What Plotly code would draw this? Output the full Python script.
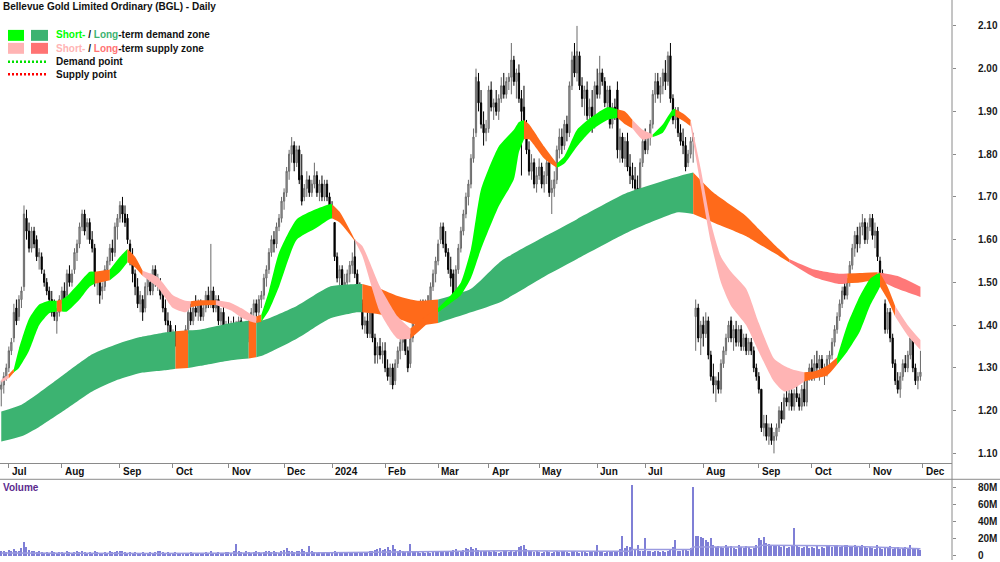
import plotly.graph_objects as go
import pandas as pd

# ---------------- data ----------------
holidays = ['2023-12-25', '2023-12-26', '2024-01-01', '2024-01-26',
            '2024-03-29', '2024-04-01', '2024-04-25', '2024-06-10']

opens = [
    1.25,1.26,1.28,
    1.30,1.34,1.37,1.44,1.42,1.46,1.49,1.65,1.62,1.58,1.62,1.60,1.56,1.56,1.52,1.50,1.48,1.46,1.44,1.41,1.43,
    1.46,1.48,1.47,1.52,1.50,1.53,1.57,1.59,1.63,1.66,1.63,1.64,1.60,1.58,1.50,1.50,1.48,1.49,1.53,1.55,1.58,1.57,1.63,
    1.65,1.68,1.66,1.65,1.59,1.56,1.52,1.49,1.45,1.46,1.44,1.49,1.50,1.48,1.53,1.50,1.50,1.47,1.44,1.41,1.40,
    1.37,1.38,1.36,1.34,1.36,1.37,1.39,1.43,1.41,1.44,1.43,1.45,1.42,1.44,1.47,1.45,1.48,1.44,1.46,1.41,1.43,1.39,
    1.40,1.38,1.40,1.36,1.39,1.41,1.37,1.39,1.37,1.41,1.43,1.45,1.43,1.46,1.47,1.51,1.53,1.57,1.60,1.59,1.63,1.65,
    1.69,1.71,1.76,1.80,1.82,1.78,1.81,1.75,1.70,1.72,1.74,1.71,1.73,1.75,1.71,1.73,1.70,1.73,1.70,
    1.67,1.64,1.56,1.51,1.53,1.49,1.50,1.52,1.54,1.56,1.52,1.49,1.45,1.40,1.41,1.38,1.43,1.37,1.33,1.35,1.33,
    1.34,1.30,1.28,1.30,1.27,1.31,1.34,1.36,1.38,1.34,1.31,1.37,1.41,1.43,1.41,1.44,1.42,1.45,1.44,1.49,1.52,
    1.55,1.60,1.63,1.59,1.57,1.53,1.52,1.47,1.53,1.58,1.62,1.66,1.70,1.73,1.79,1.85,1.97,1.92,1.87,1.85,
    1.86,1.95,1.91,1.92,1.90,1.93,1.96,1.94,1.97,1.98,2.02,1.97,1.99,1.93,1.91,1.86,1.81,1.76,1.78,1.73,
    1.75,1.77,1.73,1.75,1.78,1.71,1.72,1.74,1.81,1.84,1.82,1.87,1.85,1.96,2.03,1.99,2.03,1.96,1.93,1.95,1.89,1.91,1.87,
    1.96,1.94,1.99,1.97,1.92,1.95,1.87,1.91,1.95,1.81,1.84,1.79,1.83,1.77,1.75,1.74,1.72,1.71,1.78,
    1.83,1.81,1.84,1.87,1.94,1.97,1.94,1.96,1.99,1.97,2.03,1.93,1.88,1.90,1.85,1.83,1.82,1.78,1.80,1.83,1.42,1.44,1.37,
    1.40,1.38,1.41,1.33,1.28,1.26,1.27,1.25,1.31,1.34,1.37,1.41,1.37,1.39,1.36,1.39,1.35,1.37,1.34,1.36,1.34,1.30,
    1.28,1.25,1.16,1.17,1.14,1.16,1.13,1.14,1.16,1.20,1.18,1.23,1.22,1.24,1.21,1.24,1.23,1.21,1.25,1.22,1.28,
    1.30,1.28,1.31,1.30,1.32,1.29,1.30,1.32,1.33,1.36,1.39,1.42,1.45,1.49,1.47,1.50,1.54,1.58,1.61,1.59,1.63,1.64,1.60,
    1.63,1.65,1.61,1.62,1.55,1.52,1.45,1.39,1.43,1.37,1.31,1.27,1.25,1.28,1.31,1.30,1.33,1.37,1.30,1.27,1.28,
]
highs = [
    1.27,1.29,1.31,
    1.35,1.37,1.45,1.46,1.47,1.49,1.68,1.67,1.64,1.63,1.63,1.61,1.58,1.57,1.53,1.51,1.49,1.48,1.46,1.44,1.47,
    1.49,1.50,1.53,1.54,1.53,1.58,1.60,1.64,1.67,1.67,1.65,1.65,1.62,1.59,1.52,1.52,1.50,1.54,1.56,1.59,1.60,1.64,1.66,
    1.69,1.70,1.68,1.66,1.60,1.58,1.53,1.51,1.48,1.47,1.50,1.52,1.52,1.54,1.54,1.52,1.51,1.48,1.46,1.43,1.41,
    1.39,1.40,1.37,1.37,1.38,1.40,1.44,1.45,1.45,1.47,1.46,1.46,1.45,1.48,1.49,1.59,1.49,1.47,1.47,1.44,1.45,1.41,
    1.42,1.41,1.42,1.41,1.42,1.42,1.40,1.41,1.42,1.44,1.46,1.46,1.47,1.48,1.52,1.54,1.58,1.61,1.62,1.64,1.66,1.70,
    1.72,1.77,1.81,1.84,1.83,1.82,1.82,1.80,1.73,1.76,1.75,1.74,1.78,1.76,1.74,1.75,1.74,1.74,1.71,
    1.69,1.64,1.57,1.54,1.54,1.52,1.53,1.55,1.57,1.60,1.53,1.50,1.46,1.42,1.43,1.44,1.45,1.38,1.36,1.37,1.36,
    1.36,1.32,1.31,1.31,1.32,1.35,1.37,1.39,1.39,1.35,1.38,1.42,1.44,1.45,1.46,1.46,1.46,1.47,1.50,1.53,1.56,
    1.60,1.64,1.64,1.62,1.58,1.56,1.53,1.54,1.59,1.63,1.67,1.71,1.74,1.80,1.86,2.00,1.99,1.95,1.90,1.88,
    1.96,1.97,1.93,1.95,1.94,1.98,1.99,1.98,1.99,2.06,2.03,2.00,2.01,1.95,1.96,1.88,1.83,1.80,1.79,1.77,
    1.79,1.78,1.76,1.79,1.79,1.74,1.76,1.82,1.86,1.86,1.88,1.89,1.97,2.04,2.06,2.10,2.04,1.98,1.96,1.97,1.93,1.95,1.97,
    2.00,2.03,2.00,1.98,1.96,1.96,1.92,1.93,1.97,1.86,1.85,1.84,1.85,1.80,1.78,1.77,1.75,1.79,1.84,
    1.86,1.85,1.88,1.95,1.99,1.99,1.98,2.00,2.02,2.04,2.06,1.94,1.91,1.91,1.87,1.86,1.84,1.81,1.84,1.85,1.46,1.45,1.41,
    1.42,1.43,1.42,1.34,1.31,1.28,1.29,1.32,1.35,1.38,1.41,1.42,1.40,1.41,1.40,1.40,1.38,1.38,1.37,1.37,1.35,1.31,
    1.29,1.25,1.19,1.19,1.17,1.17,1.15,1.17,1.21,1.22,1.24,1.26,1.25,1.25,1.25,1.28,1.24,1.26,1.27,1.29,1.31,
    1.32,1.33,1.34,1.33,1.33,1.31,1.33,1.34,1.37,1.40,1.43,1.46,1.49,1.51,1.51,1.55,1.59,1.62,1.63,1.64,1.66,1.65,1.64,
    1.66,1.66,1.64,1.63,1.56,1.53,1.46,1.44,1.44,1.38,1.32,1.29,1.29,1.32,1.33,1.34,1.38,1.38,1.31,1.29,1.34,
]
lows = [
    1.21,1.24,1.27,
    1.29,1.33,1.36,1.40,1.41,1.44,1.48,1.60,1.57,1.57,1.58,1.55,1.53,1.52,1.49,1.47,1.45,1.42,1.41,1.38,1.42,
    1.45,1.45,1.46,1.49,1.49,1.52,1.55,1.58,1.62,1.61,1.60,1.59,1.57,1.49,1.47,1.45,1.46,1.48,1.51,1.54,1.55,1.56,1.60,
    1.64,1.64,1.63,1.59,1.54,1.50,1.47,1.44,1.43,1.41,1.43,1.47,1.47,1.47,1.49,1.48,1.46,1.43,1.40,1.38,1.36,
    1.35,1.35,1.32,1.32,1.35,1.36,1.38,1.40,1.40,1.42,1.41,1.41,1.41,1.43,1.44,1.44,1.43,1.43,1.40,1.40,1.38,1.36,
    1.36,1.36,1.35,1.34,1.37,1.36,1.35,1.35,1.36,1.40,1.42,1.42,1.42,1.44,1.46,1.49,1.52,1.56,1.57,1.58,1.62,1.64,
    1.67,1.70,1.74,1.78,1.76,1.77,1.73,1.68,1.69,1.70,1.70,1.70,1.72,1.70,1.69,1.69,1.69,1.69,1.66,
    1.65,1.55,1.50,1.49,1.48,1.47,1.49,1.50,1.52,1.51,1.48,1.44,1.39,1.38,1.37,1.37,1.36,1.31,1.31,1.32,1.31,
    1.29,1.27,1.26,1.25,1.26,1.30,1.32,1.34,1.33,1.29,1.30,1.36,1.39,1.40,1.40,1.41,1.41,1.43,1.43,1.48,1.50,
    1.54,1.59,1.58,1.56,1.52,1.49,1.46,1.46,1.52,1.57,1.61,1.65,1.68,1.72,1.78,1.84,1.90,1.86,1.82,1.83,
    1.85,1.90,1.88,1.89,1.88,1.92,1.93,1.93,1.95,1.94,1.96,1.93,1.92,1.75,1.84,1.80,1.75,1.74,1.72,1.71,
    1.74,1.72,1.71,1.73,1.70,1.66,1.70,1.73,1.79,1.80,1.81,1.83,1.84,1.95,1.98,1.97,1.95,1.91,1.89,1.88,1.86,1.85,1.86,
    1.93,1.93,1.96,1.91,1.90,1.86,1.86,1.88,1.79,1.78,1.78,1.77,1.76,1.73,1.72,1.71,1.70,1.70,1.77,
    1.80,1.80,1.82,1.86,1.92,1.93,1.92,1.94,1.95,1.96,1.92,1.87,1.86,1.84,1.82,1.80,1.76,1.77,1.79,1.78,1.34,1.36,1.33,
    1.35,1.37,1.32,1.27,1.24,1.22,1.24,1.24,1.30,1.33,1.36,1.36,1.34,1.35,1.35,1.34,1.34,1.33,1.33,1.33,1.29,1.27,
    1.24,1.15,1.14,1.13,1.12,1.12,1.10,1.13,1.15,1.17,1.18,1.21,1.20,1.20,1.20,1.22,1.20,1.20,1.21,1.21,1.27,
    1.27,1.27,1.29,1.27,1.28,1.26,1.28,1.29,1.32,1.35,1.38,1.41,1.44,1.46,1.46,1.49,1.53,1.56,1.57,1.58,1.61,1.59,1.59,
    1.62,1.60,1.58,1.55,1.50,1.49,1.38,1.38,1.36,1.30,1.26,1.24,1.23,1.27,1.29,1.29,1.32,1.29,1.26,1.25,1.27,
]
closes = [
    1.26,1.28,1.30,
    1.34,1.36,1.43,1.41,1.46,1.48,1.66,1.62,1.58,1.62,1.59,1.56,1.57,1.53,1.50,1.48,1.46,1.43,1.42,1.43,1.46,
    1.48,1.46,1.52,1.50,1.52,1.57,1.59,1.63,1.66,1.62,1.64,1.60,1.58,1.50,1.51,1.47,1.49,1.53,1.55,1.58,1.57,1.63,1.65,
    1.68,1.66,1.64,1.60,1.56,1.52,1.49,1.45,1.47,1.43,1.49,1.51,1.48,1.53,1.50,1.51,1.47,1.44,1.41,1.40,1.37,
    1.38,1.36,1.33,1.36,1.37,1.39,1.43,1.41,1.44,1.43,1.45,1.42,1.44,1.47,1.45,1.48,1.44,1.46,1.41,1.43,1.39,1.40,
    1.37,1.40,1.36,1.39,1.41,1.37,1.39,1.36,1.41,1.43,1.45,1.43,1.46,1.47,1.51,1.53,1.57,1.60,1.59,1.63,1.65,1.69,
    1.71,1.76,1.80,1.82,1.78,1.81,1.74,1.69,1.72,1.74,1.71,1.73,1.75,1.71,1.73,1.70,1.73,1.70,1.67,
    1.66,1.56,1.51,1.53,1.49,1.50,1.52,1.54,1.55,1.52,1.49,1.45,1.40,1.41,1.38,1.43,1.37,1.33,1.35,1.33,1.34,
    1.30,1.28,1.30,1.26,1.31,1.34,1.36,1.38,1.34,1.30,1.37,1.41,1.43,1.41,1.44,1.42,1.45,1.44,1.49,1.52,1.55,
    1.59,1.63,1.59,1.57,1.53,1.51,1.47,1.53,1.58,1.62,1.66,1.70,1.73,1.79,1.84,1.98,1.92,1.87,1.85,1.86,
    1.95,1.91,1.92,1.90,1.93,1.96,1.94,1.97,1.98,2.02,1.97,1.99,1.93,1.90,1.85,1.81,1.76,1.78,1.73,1.75,
    1.77,1.73,1.75,1.78,1.71,1.72,1.74,1.81,1.84,1.82,1.87,1.85,1.96,2.02,1.99,2.04,1.96,1.93,1.95,1.89,1.91,1.87,1.96,
    1.94,1.99,1.97,1.92,1.95,1.87,1.91,1.89,1.81,1.84,1.79,1.83,1.77,1.75,1.74,1.72,1.71,1.78,1.83,
    1.81,1.84,1.87,1.94,1.97,1.94,1.96,1.99,1.97,2.03,1.93,1.88,1.90,1.85,1.83,1.82,1.77,1.80,1.83,1.84,1.44,1.37,1.40,
    1.38,1.41,1.33,1.28,1.26,1.27,1.25,1.31,1.34,1.37,1.40,1.37,1.39,1.36,1.39,1.35,1.37,1.34,1.36,1.34,1.30,1.28,
    1.25,1.16,1.17,1.14,1.16,1.13,1.14,1.16,1.20,1.18,1.23,1.22,1.24,1.21,1.24,1.23,1.21,1.25,1.22,1.28,1.30,
    1.28,1.31,1.30,1.32,1.29,1.30,1.32,1.33,1.36,1.39,1.42,1.45,1.48,1.47,1.50,1.54,1.58,1.61,1.59,1.63,1.64,1.60,1.63,
    1.65,1.61,1.62,1.56,1.52,1.50,1.39,1.43,1.37,1.31,1.27,1.25,1.28,1.31,1.30,1.33,1.37,1.30,1.27,1.28,1.29,
]
volumes_m = [
    5,6,4,
    7,6,8,5,6,9,16,10,7,6,5,4,5,4,3,4,3,5,4,3,4,
    4,3,5,4,3,4,5,4,6,4,3,4,3,5,4,3,3,4,3,5,4,4,5,
    6,5,4,3,4,3,4,3,3,4,3,3,4,3,4,5,6,4,3,4,3,
    3,4,3,3,2,3,3,4,3,3,2,3,3,4,3,5,3,3,4,3,3,4,
    4,3,5,14,6,4,3,5,4,3,4,5,4,3,4,5,6,4,5,4,3,6,
    7,9,5,6,4,5,6,8,5,4,11,5,4,3,4,3,4,3,4,
    3,5,4,3,4,3,4,3,3,4,3,4,3,3,4,5,6,7,8,9,7,
    8,10,7,13,8,6,7,5,4,5,14,6,5,4,3,4,3,4,3,5,4,
    4,5,6,5,4,6,7,8,6,5,7,9,8,10,8,9,7,6,5,6,
    5,4,5,4,3,4,5,6,4,5,4,6,10,11,12,8,6,5,4,5,
    4,3,4,5,4,3,4,5,4,6,5,4,3,5,6,4,3,5,4,3,4,4,5,
    12,5,4,3,5,4,5,4,6,8,23,9,11,10,82,8,12,6,5,
    21,6,5,4,6,5,4,5,4,6,7,10,18,6,5,7,8,6,9,80,23,23,22,
    20,18,16,21,12,10,11,10,9,12,10,11,9,8,12,10,9,11,10,8,9,12,
    20,18,22,15,14,13,12,12,11,10,11,9,10,12,32,13,10,9,10,11,9,
    10,9,11,8,10,9,11,12,10,11,12,10,11,12,13,10,11,12,10,11,12,10,9,
    10,9,8,13,9,8,10,9,11,8,9,10,8,9,10,8,12,9,8,9,7,
]
# volume moving-average line vertices (bar index, millions)
vma_x = [0, 60, 120, 150, 175, 200, 235, 249, 250, 273, 274, 300, 301, 330, 345, 364]
vma_y = [3.5, 3.0, 3.5, 4.5, 5.5, 6.0, 5.5, 5.5, 7.5, 7.5, 10.5, 10.5, 12.5, 12.0, 10.5, 8.5]

# short-term zone: edges at bar positions, and zone state from each point to the next
st_x = [0,3,5,7,11,15,19,22,24,26, 31,35,37,43,47,50,53,56,62,68,
        73,75,79,85,91,95,99,101,103,106, 110,117,124,130,131,134,140,143,150,157,
        162,168,173,178,182,186,190,197,203,205, 207,209,215,220,223,228,234,240,244,247,
        250,254,258,262,266,267,270,273,277,281, 285,289,295,300,306,310,314,318,322,327,
        331,335,340,344,347,348,351,354,359,364]
st_top = [1.272,1.285,1.298,1.345,1.415,1.448,1.457,1.457,1.460,1.468,
          1.500,1.525,1.525,1.530,1.560,1.578,1.560,1.527,1.512,1.470,
          1.457,1.456,1.458,1.458,1.452,1.440,1.425,1.420,1.425,1.480,
          1.570,1.648,1.670,1.683,1.683,1.665,1.600,1.585,1.490,1.420,
          1.392,1.420,1.440,1.470,1.500,1.578,1.718,1.818,1.857,1.875,
          1.880,1.870,1.818,1.778,1.795,1.857,1.888,1.910,1.905,1.900,
          1.880,1.857,1.846,1.870,1.905,1.905,1.895,1.880,1.765,1.640,
          1.560,1.525,1.485,1.405,1.322,1.305,1.295,1.290,1.292,1.305,
          1.325,1.400,1.468,1.508,1.520,1.522,1.490,1.445,1.400,1.365]
st_bot = [1.266,1.276,1.290,1.300,1.340,1.400,1.428,1.432,1.432,1.432,
          1.460,1.490,1.497,1.505,1.525,1.547,1.535,1.515,1.488,1.440,
          1.430,1.442,1.446,1.447,1.434,1.418,1.408,1.405,1.408,1.435,
          1.490,1.600,1.625,1.648,1.650,1.640,1.597,1.562,1.430,1.368,
          1.368,1.400,1.430,1.452,1.470,1.510,1.578,1.678,1.741,1.805,
          1.835,1.835,1.790,1.768,1.778,1.818,1.857,1.880,1.885,1.870,
          1.860,1.834,1.840,1.850,1.890,1.888,1.878,1.865,1.725,1.594,
          1.500,1.445,1.400,1.338,1.268,1.245,1.252,1.268,1.275,1.282,
          1.308,1.338,1.385,1.445,1.478,1.490,1.460,1.420,1.375,1.342]
st_state = ['P','O','G','G','G','G','G','O','G','G',
            'G','G','O','G','G','O','O','P','P','P',
            'P','O','O','P','P','P','P','O','G','G',
            'G','G','G','G','O','O','P','P','P','P',
            'O','O','G','G','G','G','G','G','G','G',
            'O','O','O','G','G','G','G','G','O','O',
            'P','P','G','G','G','O','O','P','P','P',
            'P','P','P','P','P','P','P','O','O','O',
            'G','G','G','G','G','O','O','P','P','P']

# long-term zone
lt_x = [0,8,15,26,36,46,55,66,69,74, 79,91,98,101,104,117,130,141,143,150,
        157,165,173,186,198,217,228,248,268,274, 282,295,300,308,312,322,332,335,340,347,
        355,364]
lt_top = [1.198,1.214,1.242,1.290,1.332,1.356,1.372,1.384,1.386,1.388,
          1.390,1.405,1.410,1.410,1.412,1.445,1.490,1.496,1.496,1.485,
          1.468,1.457,1.460,1.485,1.550,1.613,1.648,1.710,1.748,1.757,
          1.710,1.655,1.625,1.578,1.555,1.530,1.520,1.521,1.522,1.524,
          1.515,1.490]
lt_bot = [1.128,1.140,1.162,1.205,1.245,1.272,1.288,1.295,1.298,1.300,
          1.305,1.318,1.322,1.325,1.330,1.368,1.415,1.430,1.430,1.425,
          1.415,1.400,1.405,1.430,1.455,1.520,1.555,1.617,1.664,1.660,
          1.640,1.608,1.590,1.562,1.547,1.512,1.496,1.498,1.500,1.507,
          1.485,1.466]
lt_state = ['G','G','G','G','G','G','G','G','O','G',
            'G','G','O','G','G','G','G','G','O','O',
            'O','O','G','G','G','G','G','G','G','O',
            'O','O','O','O','R','R','R','O','O','R',
            'R','R']

month_labels = ['Jul', 'Aug', 'Sep', 'Oct', 'Nov', 'Dec', '2024', 'Feb', 'Mar',
                'Apr', 'May', 'Jun', 'Jul', 'Aug', 'Sep', 'Oct', 'Nov', 'Dec']
price_ticks = [1.10, 1.20, 1.30, 1.40, 1.50, 1.60, 1.70, 1.80, 1.90, 2.00, 2.10]
vol_ticks = [0, 20, 40, 60, 80]
vol_tick_text = ['0', '20M', '40M', '60M', '80M']

# ---------------- styling ----------------
FONT = 'Liberation Sans, Arial, sans-serif'
ST_COL = {'G': '#00FF00', 'P': '#FFB4B4', 'O': '#FF6A1A'}
LT_COL = {'G': '#3CB371', 'R': '#FF7878', 'O': '#FF6A1A'}
AXIS_GREY = '#8a8a8a'

dates = pd.bdate_range('2023-06-28', '2024-11-29')
dates = dates[~dates.isin(pd.to_datetime(holidays))]
n = min(len(closes), len(opens), len(highs), len(lows))
xs = list(range(n))

tick_idx = []
prev = None
for i, d in enumerate(dates):
    key = (d.year, d.month)
    if key != prev:
        if i > 0:
            tick_idx.append(i)
        prev = key
tick_idx.append(len(dates))
tick_idx = tick_idx[:len(month_labels)]

fig = go.Figure()


def add_zone(bx, top, bot, state, colors):
    # split into runs of equal state; each run ends at the next run's first point
    runs = []
    start = 0
    for k in range(1, len(bx)):
        if state[k] != state[start] or k == len(bx) - 1:
            runs.append((start, k, state[start]))
            start = k
    for a, b, s in runs:
        sx = bx[a:b + 1]
        fig.add_trace(go.Scatter(x=sx, y=bot[a:b + 1], mode='lines',
                                 line=dict(width=0, shape='spline', smoothing=0.55),
                                 hoverinfo='skip', showlegend=False))
        fig.add_trace(go.Scatter(x=sx, y=top[a:b + 1], mode='lines',
                                 line=dict(width=0, shape='spline', smoothing=0.55),
                                 fill='tonexty', fillcolor=colors[s],
                                 hoverinfo='skip', showlegend=False))


add_zone(lt_x, lt_top, lt_bot, lt_state, LT_COL)
add_zone(st_x, st_top, st_bot, st_state, ST_COL)

fig.add_trace(go.Candlestick(
    x=xs, open=opens[:n], high=highs[:n], low=lows[:n], close=closes[:n],
    increasing=dict(line=dict(color='#6a6a6a', width=1), fillcolor='#a8a8a8'),
    decreasing=dict(line=dict(color='#000000', width=1), fillcolor='#000000'),
    whiskerwidth=0, showlegend=False, hoverinfo='skip'))

fig.add_trace(go.Bar(x=list(range(len(volumes_m))), y=volumes_m, xaxis='x2', yaxis='y2',
                     width=0.45, marker=dict(color='#7f7fd6', line=dict(width=0)),
                     showlegend=False, hoverinfo='skip'))
fig.add_trace(go.Scatter(x=vma_x, y=vma_y, xaxis='x2', yaxis='y2', mode='lines',
                         line=dict(color='#9a9ae0', width=1.5),
                         showlegend=False, hoverinfo='skip'))

W, H = 1000, 562
PX_RIGHT = 952
price_bottom = 465
vol_top = 481


def py(y):
    return 1 - y / H


tickfont = dict(family=FONT, size=10, color='#1a1a1a', weight='bold')

fig.update_layout(
    width=W, height=H, margin=dict(l=0, r=0, t=0, b=0),
    paper_bgcolor='white', plot_bgcolor='white', showlegend=False,
    bargap=0, hovermode=False,
    xaxis=dict(domain=[0, PX_RIGHT / W], range=[-0.5, 376.5], anchor='y',
               showgrid=False, zeroline=False, showline=True, linecolor=AXIS_GREY,
               linewidth=1, ticks='outside', ticklen=4, tickcolor=AXIS_GREY,
               tickvals=tick_idx, showticklabels=False,
               rangeslider=dict(visible=False), fixedrange=True),
    yaxis=dict(domain=[py(price_bottom), 1], range=[1.0767, 2.1606], side='right',
               showgrid=False, zeroline=False, showline=False,
               ticks='outside', ticklen=3, tickcolor=AXIS_GREY,
               tickvals=price_ticks, ticktext=['%.2f' % v for v in price_ticks],
               tickfont=tickfont, ticklabelstandoff=20),
    xaxis2=dict(domain=[0, PX_RIGHT / W], matches='x', anchor='y2', showgrid=False,
                zeroline=False, showline=False, showticklabels=False, ticks=''),
    yaxis2=dict(domain=[py(561), py(vol_top)], range=[-3.5, 89], side='right',
                showgrid=False, zeroline=False, showline=False,
                ticks='outside', ticklen=3, tickcolor=AXIS_GREY,
                tickvals=vol_ticks, ticktext=vol_tick_text,
                tickfont=tickfont, ticklabelstandoff=20, ticklabeloverflow='allow'),
)

shapes = [
    # right-hand axis line
    dict(type='line', xref='paper', yref='paper', x0=PX_RIGHT / W, x1=PX_RIGHT / W,
         y0=0, y1=1, line=dict(color=AXIS_GREY, width=1)),
    # separator between price/date strip and volume panel
    dict(type='line', xref='paper', yref='paper', x0=0, x1=1, y0=py(vol_top), y1=py(vol_top),
         line=dict(color=AXIS_GREY, width=1)),
    # legend swatches
    dict(type='rect', xref='paper', yref='paper', x0=8 / W, x1=24 / W, y0=py(41), y1=py(30),
         fillcolor='#00FF00', line=dict(width=0)),
    dict(type='rect', xref='paper', yref='paper', x0=31 / W, x1=48 / W, y0=py(41), y1=py(30),
         fillcolor='#3CB371', line=dict(width=0)),
    dict(type='rect', xref='paper', yref='paper', x0=8 / W, x1=24 / W, y0=py(54), y1=py(43),
         fillcolor='#FFB4B4', line=dict(width=0)),
    dict(type='rect', xref='paper', yref='paper', x0=31 / W, x1=48 / W, y0=py(54), y1=py(43),
         fillcolor='#FF7373', line=dict(width=0)),
    dict(type='line', xref='paper', yref='paper', x0=8 / W, x1=46 / W, y0=py(62), y1=py(62),
         line=dict(color='#00E000', width=2.5, dash='2px,2px')),
    dict(type='line', xref='paper', yref='paper', x0=8 / W, x1=46 / W, y0=py(74.5), y1=py(74.5),
         line=dict(color='#FF0000', width=2.5, dash='2px,2px')),
]
fig.update_layout(shapes=shapes)

ann = []
ann.append(dict(text='<b>Bellevue Gold Limited Ordinary (BGL) - Daily</b>', xref='paper', yref='paper',
                x=0, y=py(6.5), xanchor='left', yanchor='middle', showarrow=False, xshift=1,
                font=dict(family=FONT, size=10, color='#111111')))
ann.append(dict(text='<b><span style="color:#00FF00">Short-</span> / '
                     '<span style="color:#3CB371">Long</span>-term demand zone</b>',
                xref='paper', yref='paper', x=54 / W, y=py(35), xanchor='left', yanchor='middle',
                showarrow=False, font=dict(family=FONT, size=10, color='#111111')))
ann.append(dict(text='<b><span style="color:#FFB4B4">Short-</span> / '
                     '<span style="color:#FF7373">Long</span>-term supply zone</b>',
                xref='paper', yref='paper', x=54 / W, y=py(48.5), xanchor='left', yanchor='middle',
                showarrow=False, font=dict(family=FONT, size=10, color='#111111')))
ann.append(dict(text='<b>Demand point</b>', xref='paper', yref='paper', x=54 / W, y=py(62),
                xanchor='left', yanchor='middle', showarrow=False,
                font=dict(family=FONT, size=10, color='#111111')))
ann.append(dict(text='<b>Supply point</b>', xref='paper', yref='paper', x=54 / W, y=py(74.5),
                xanchor='left', yanchor='middle', showarrow=False,
                font=dict(family=FONT, size=10, color='#111111')))
ann.append(dict(text='<b>Volume</b>', xref='paper', yref='paper', x=1 / W, y=py(489.5),
                xanchor='left', yanchor='middle', showarrow=False,
                font=dict(family=FONT, size=10, color='#5b2a8e')))
for ti, lab in zip(tick_idx, month_labels):
    ann.append(dict(text='<b>%s</b>' % lab, xref='x', yref='paper', x=ti, y=py(473.5),
                    xanchor='left', yanchor='middle', showarrow=False, xshift=1,
                    font=dict(family=FONT, size=10, color='#111111')))
fig.update_layout(annotations=ann)

fig.write_html('out.html')
